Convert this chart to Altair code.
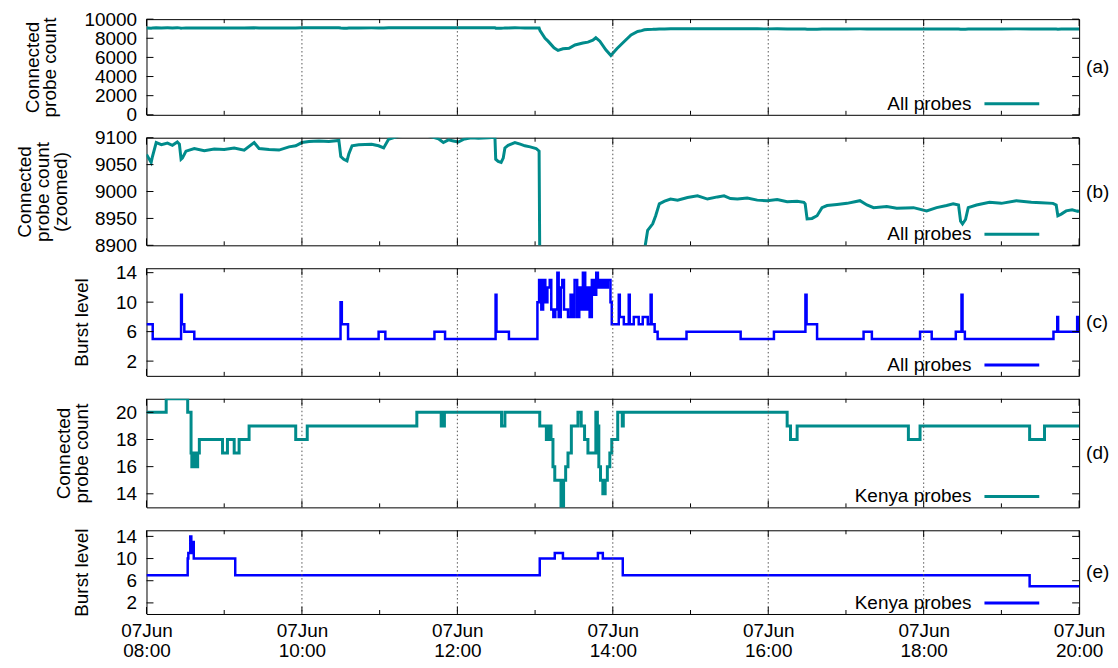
import altair as alt
import pandas as pd

# ---------------- data (minutes after 07 Jun 08:00) ----------------
all_t = [0, 3.6, 4.6, 7.5, 11.5, 16.2, 20, 23.8, 25.4, 26.7, 27.7, 30.5, 36.9, 44.6, 52.3, 60, 67.7, 75.4,
         83.1, 86.9, 94.6, 102.3, 110, 115.2, 120, 125.4, 133.1, 140.8, 148.5, 150, 152.3, 154.8, 156.2,
         158.7, 163.8, 173.8, 179.2, 183.1, 186.9, 194.6, 202.3, 210, 216, 222.8, 225.4, 229.2, 233.1,
         236.9, 240.8, 244.6, 250.8, 256.2, 263.8, 269, 269.6, 271.5, 273.8, 275.4, 276.7, 279.2, 284.4,
         288.5, 292.1, 296.2, 300.8, 303.1, 303.8, 307.7, 310, 314.6, 317.7, 321.5, 326.2, 330.8, 336.9,
         340.8, 344.6, 346.9, 350, 354.6, 358.5, 363.1, 369, 374.1, 379.2, 382.3, 384.4, 386.9, 390.8,
         393.1, 395.9, 400, 404.6, 410, 417.7, 425.4, 433.1, 440.8, 445.9, 450.8, 456.2, 463.8, 471.5,
         479.2, 486.9, 494.6, 502.3, 507.5, 508.5, 510, 513.8, 517.7, 521.5, 525.4, 533.1, 540.8, 550.8,
         556.2, 561.3, 571.5, 579.2, 592.1, 602.3, 610, 617.7, 622.8, 626.9, 628.5, 630, 632.3, 634.4,
         640.8, 650.8, 660, 671.5, 683.1, 690.8, 699.8, 702.3, 703.6, 706.2, 710, 714.6, 719, 720]
all_v = [9069, 9054, 9065, 9091, 9087, 9090, 9086, 9092, 9088, 9060, 9062, 9075, 9080, 9076, 9079, 9078,
         9081, 9077, 9091, 9080, 9078, 9077, 9083, 9085, 9091, 9093, 9094, 9093, 9095, 9065, 9060, 9057,
         9070, 9085, 9087, 9088, 9085, 9081, 9097, 9103, 9106, 9108, 9105, 9100, 9098, 9091, 9096, 9094,
         9092, 9097, 9100, 9099, 9100, 9101, 9060, 9056, 9054, 9062, 9081, 9086, 9091, 9088, 9085, 9083,
         9080, 9075, 8800, 8000, 7700, 7000, 6730, 6900, 6950, 7300, 7500, 7600, 7800, 8050, 7700, 6800,
         6200, 6900, 7690, 8350, 8710, 8800, 8890, 8928, 8940, 8955, 8977, 8982, 8986, 8984, 8989, 8992,
         8986, 8990, 8992, 8987, 8986, 8988, 8984, 8983, 8985, 8981, 8982, 8980, 8977, 8949, 8950, 8955,
         8970, 8974, 8976, 8978, 8983, 8975, 8970, 8972, 8969, 8970, 8964, 8970, 8974, 8977, 8975, 8945,
         8940, 8948, 8970, 8975, 8980, 8978, 8983, 8980, 8979, 8978, 8975, 8955, 8958, 8964, 8966, 8963,
         8965]

burst_all_t = [0, 4.8, 26.7, 27.3, 29.2, 36.9, 149.8, 150.8, 155.6, 179.2, 184.4, 222.3, 230.5, 269.5,
               270.2, 279.8, 301.8, 303.1, 304.8, 306.2, 307.9, 309.5, 311.3, 312.5, 314.1, 315.6, 317.2,
               318.2, 319.8, 321, 322.3, 325.4, 327.4, 328.7, 330.5, 332.5, 334.1, 335.6, 336.9, 338.7,
               340.2, 342.1, 343.8, 345.4, 347.2, 348.5, 349.8, 351.5, 353.1, 354.9, 356.2, 358.2, 359.2,
               364.6, 365.4, 368.5, 372.3, 373.1, 376.2, 380, 383.1, 387, 389.2, 390, 392.3, 394.6, 416.9,
               458.7, 484.4, 508.7, 509.6, 517.7, 553.6, 560, 597.2, 606.2, 624.8, 629.2, 630, 631.8,
               700.2, 703.1, 703.8, 718.5, 719.2, 720]
burst_all_v = [7, 5, 11, 7, 6, 5, 10, 7, 5, 6, 5, 6, 5, 11, 6, 5, 10, 13, 9, 13, 10, 12, 13, 9, 8, 9, 14,
               8, 12, 13, 9, 8, 11, 8, 13, 8, 12, 9, 14, 9, 12, 8, 13, 11, 14, 12, 13, 12, 13, 12, 13, 10,
               7, 11, 8, 7, 11, 7, 8, 7, 8, 7, 11, 7, 6, 5, 6, 5, 6, 11, 7, 5, 6, 5, 6, 5, 6, 11, 6, 5, 6,
               8, 6, 8, 6, 6]

kenya_t = [0, 15.2, 31.8, 34.4, 35, 36.9, 37.7, 39.5, 40.8, 58.7, 62.5, 67.7, 71.5, 79.2, 115.2, 124.1,
           208.7, 227.5, 228.1, 228.8, 230, 274.1, 276.7, 303.6, 308.7, 309.6, 310.4, 311.3, 312.3, 313.8,
           315.2, 320, 322, 323.6, 325.4, 328, 333.1, 335.6, 338.2, 340.8, 346.9, 348.1, 349.2, 350.5,
           352.3, 354.1, 355.8, 357.7, 359.2, 363.8, 367.3, 368.1, 494.6, 497.2, 502.3, 588.2, 597.2,
           681.8, 693.3, 720]
kenya_v = [20, 21, 20, 17, 16, 17, 16, 17, 18, 17, 18, 17, 18, 19, 18, 19, 20, 19, 20, 19, 20, 19, 20,
           19, 18, 19, 18, 19, 18, 16, 15, 13, 15, 16, 17, 19, 20, 19, 18, 17, 20, 19, 16, 15, 14, 15,
           16, 17, 18, 20, 19, 20, 19, 18, 19, 18, 19, 18, 19, 19]

kenya_burst_t = [0, 31.8, 32.3, 33.8, 34.6, 35.8, 36.5, 68.5, 303.6, 315.2, 321.5, 348.5, 352.3, 367.7,
                 681.8, 720]
kenya_burst_v = [7, 10, 11, 14, 11, 13, 10, 7, 10, 11, 10, 11, 10, 7, 5, 5]

# axis ticks / labels
x_major = [8, 10, 12, 14, 16, 18, 20]
x_minor = [9, 11, 13, 15, 17, 19]
x_grid = [10, 12, 14, 16, 18]
x_day = "07Jun"
x_clock = ["08:00", "10:00", "12:00", "14:00", "16:00", "18:00", "20:00"]
yt_a = [0, 2000, 4000, 6000, 8000, 10000]
yt_b = [8900, 8950, 9000, 9050, 9100]
yt_burst = [2, 6, 10, 14]
yt_d = [14, 16, 18, 20]

TEAL = "#008b8b"
BLUE = "#0000ff"
W = 936
FONT = "Liberation Sans"
FS = 19
LP = 10
TP = 24
TLH = 18

label_expr = "['" + x_day + "', " + str(x_clock) + "[indexof(" + str(x_major) + ", datum.value)]]"


def frame(t, v):
    return pd.DataFrame({"h": [8 + m / 60 for m in t], "v": v})


def panel(df, domain, yticks, H, color, title, tag, legend, step=False, bottom=False, sw=2.5):
    xs = alt.Scale(domain=[8, 20], nice=False, zero=False)
    ys = alt.Scale(domain=domain, nice=False, zero=False)
    if bottom:
        xaxis = alt.Axis(values=x_major, labelExpr=label_expr, ticks=False, tickSize=0, domain=False,
                         grid=False, labelPadding=8, labelLineHeight=20, labelFontSize=FS, labelAngle=0,
                         title=None, labelFlush=False, labelOverlap=False, labelColor="black",
                         labelFont=FONT)
    else:
        xaxis = None
    yaxis = alt.Axis(values=yticks, ticks=False, tickSize=0, domain=False, grid=False, labelPadding=LP,
                     labelFontSize=FS, labelFont=FONT, labelColor="black", title=title, titleFontSize=FS,
                     titleFont=FONT, titleFontWeight="normal", titleColor="black", titlePadding=TP,
                     titleLineHeight=TLH, format="d", labelOverlap=False)
    X = alt.X("h:Q", scale=xs, axis=xaxis)
    Y = alt.Y("v:Q", scale=ys, axis=yaxis)

    mk = dict(color=color, strokeWidth=sw, clip=True)
    if step:
        mk["interpolate"] = "step-after"
    line = alt.Chart(df).mark_line(**mk).encode(x=X, y=Y)
    grid = alt.Chart(pd.DataFrame({"h": x_grid})).mark_rule(
        color="#555", strokeDash=[1.5, 2.5], strokeWidth=1).encode(x=X)

    def xt(vals, length, top):
        y0, y1 = (0, length) if top else (H, H - length)
        return alt.Chart(pd.DataFrame({"h": vals})).mark_rule(color="black", strokeWidth=1).encode(
            x=X, y=alt.value(y0), y2=alt.value(y1))

    def yt(left):
        x0, x1 = (0, 7) if left else (W - 7, W)
        return alt.Chart(pd.DataFrame({"v": yticks})).mark_rule(color="black", strokeWidth=1).encode(
            y=Y, x=alt.value(x0), x2=alt.value(x1))

    one = pd.DataFrame({"s": [legend], "tag": [tag]})
    leg_t = alt.Chart(one).mark_text(align="right", baseline="middle", fontSize=FS, font=FONT,
                                     color="black").encode(
        text="s:N", x=alt.value(828), y=alt.value(H - 11))
    leg_l = alt.Chart(one).mark_rule(color=color, strokeWidth=3).encode(
        x=alt.value(841), x2=alt.value(896), y=alt.value(H - 11))
    tag_t = alt.Chart(one).mark_text(align="left", baseline="middle", fontSize=FS, font=FONT,
                                     color="black").encode(
        text="tag:N", x=alt.value(W + 7), y=alt.value(H / 2))
    return alt.layer(line, grid, xt(x_major, 7, False), xt(x_minor, 4, False), xt(x_major, 7, True),
                     xt(x_minor, 4, True), yt(True), yt(False), leg_t, leg_l, tag_t).properties(
        width=W, height=H)


df_all = frame(all_t, all_v)
pa = panel(df_all, [0, 10000], yt_a, 96, TEAL, ["Connected", "probe count"], "(a)", "All probes", sw=3)
pb = panel(df_all, [8900, 9100], yt_b, 108, TEAL, ["Connected", "probe count", "(zoomed)"], "(b)",
           "All probes", sw=3)
pc = panel(frame(burst_all_t, burst_all_v), [0, 14.6], yt_burst, 108, BLUE, "Burst level", "(c)",
           "All probes", step=True)
pd_ = panel(frame(kenya_t, kenya_v), [13, 21], yt_d, 109, TEAL, ["Connected", "probe count"], "(d)",
            "Kenya probes", step=True, sw=3)
pe = panel(frame(kenya_burst_t, kenya_burst_v), [0, 15.1], yt_burst, 84, BLUE, "Burst level", "(e)",
           "Kenya probes", step=True, bottom=True)

chart = alt.vconcat(pa, pb, pc, pd_, pe, spacing=23, bounds="flush").properties(
    padding={"left": 7, "top": 0, "right": 0, "bottom": 0}
).configure(font=FONT).configure_view(stroke="black", strokeWidth=1)

chart.save("out.html", embed_options={"renderer": "svg", "actions": False})
